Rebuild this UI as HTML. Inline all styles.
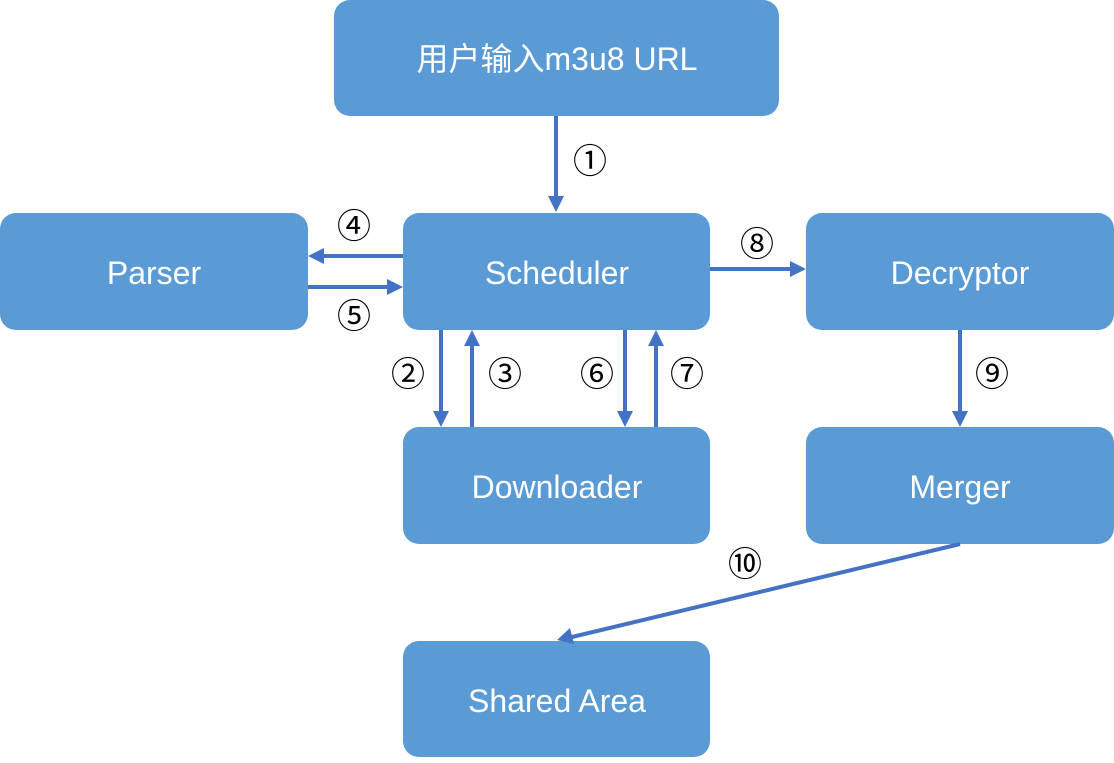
<!DOCTYPE html>
<html><head><meta charset="utf-8"><style>
body{margin:0;background:#fff;width:1114px;height:758px;overflow:hidden}
</style></head><body>
<svg width="1114" height="758" xmlns="http://www.w3.org/2000/svg" style="font-family:'Liberation Sans','Noto Sans CJK SC',sans-serif">
<defs><marker id="a" markerWidth="8" markerHeight="8" refX="6" refY="4" orient="auto" markerUnits="userSpaceOnUse"><path d="M0,0 L8,4 L0,8 Z" fill="#4472c4" transform="scale(1.6) translate(-2.5,-1.5)"/></marker></defs>
<g fill="#5b9bd5">
<rect x="334" y="0" width="445" height="116" rx="16"/>
<rect x="0" y="213" width="308" height="117" rx="16"/>
<rect x="403" y="213" width="307" height="117" rx="16"/>
<rect x="806" y="213" width="308" height="117" rx="16"/>
<rect x="403" y="427" width="307" height="117" rx="16"/>
<rect x="806" y="427" width="308" height="117" rx="16"/>
<rect x="403" y="641" width="307" height="116" rx="16"/>
</g>
<g fill="#fff" font-size="32" text-anchor="middle">
<text x="557" y="70">用户输入m3u8 URL</text>
<text x="154" y="284">Parser</text>
<text x="557" y="284">Scheduler</text>
<text x="960" y="284">Decryptor</text>
<text x="557" y="498">Downloader</text>
<text x="960" y="498">Merger</text>
<text x="557" y="712">Shared Area</text>
</g>
<g stroke="#4472c4" stroke-width="4" fill="#4472c4">
<line x1="556" y1="116" x2="556" y2="198"/><path d="M548,196 L564,196 L556,212 Z" stroke="none"/>
<line x1="403" y1="256" x2="322" y2="256"/><path d="M324,248 L324,264 L308,256 Z" stroke="none"/>
<line x1="308" y1="287" x2="389" y2="287"/><path d="M387,279 L387,295 L403,287 Z" stroke="none"/>
<line x1="441" y1="330" x2="441" y2="413"/><path d="M433,411 L449,411 L441,427 Z" stroke="none"/>
<line x1="472" y1="427" x2="472" y2="344"/><path d="M464,346 L480,346 L472,330 Z" stroke="none"/>
<line x1="625" y1="330" x2="625" y2="413"/><path d="M617,411 L633,411 L625,427 Z" stroke="none"/>
<line x1="656" y1="427" x2="656" y2="344"/><path d="M648,346 L664,346 L656,330 Z" stroke="none"/>
<line x1="710" y1="269" x2="792" y2="269"/><path d="M790,261 L790,277 L806,269 Z" stroke="none"/>
<line x1="960" y1="330" x2="960" y2="413"/><path d="M952,411 L968,411 L960,427 Z" stroke="none"/>
<line x1="960" y1="544" x2="572" y2="637"/><path d="M570,628 L574,644 L557,640 Z" stroke="none"/>
</g>
<g fill="#000" font-size="34" text-anchor="middle" font-family="'Noto Sans CJK SC','DejaVu Sans',sans-serif">
<text x="590" y="173">①</text>
<text x="354" y="238">④</text>
<text x="354" y="328">⑤</text>
<text x="408" y="386">②</text>
<text x="505" y="386">③</text>
<text x="597" y="386">⑥</text>
<text x="687" y="386">⑦</text>
<text x="757" y="256">⑧</text>
<text x="992" y="386">⑨</text>
<text x="745" y="576">⑩</text>
</g>
</svg>
</body></html>
